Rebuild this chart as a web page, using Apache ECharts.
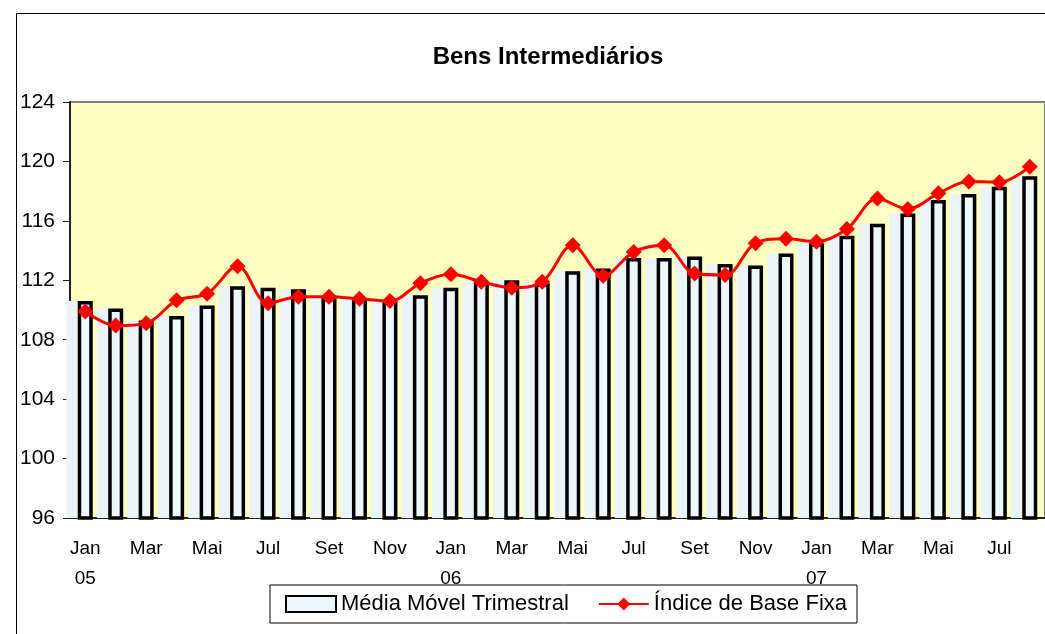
<!DOCTYPE html>
<html>
<head>
<meta charset="utf-8">
<script src="https://cdn.jsdelivr.net/npm/echarts@6/dist/echarts.min.js"></script>
<style>
html,body{margin:0;padding:0;background:#fff;}
#chart{width:1045px;height:634px;}
</style>
</head>
<body>
<div id="chart"></div>
<script>
var categories = ['Jan\n05','Fev','Mar','Abr','Mai','Jun','Jul','Ago','Set','Out','Nov','Dez',
                  'Jan\n06','Fev','Mar','Abr','Mai','Jun','Jul','Ago','Set','Out','Nov','Dez',
                  'Jan\n07','Fev','Mar','Abr','Mai','Jun','Jul','Ago'];
var mediaMovel = [110.6, 110.1, 109.3, 109.6, 110.3, 111.6, 111.5, 111.4, 110.8, 110.8, 110.6, 111.0,
                  111.5, 111.9, 112.0, 111.8, 112.6, 112.8, 113.5, 113.5, 113.6, 113.1, 113.0, 113.8,
                  114.5, 115.0, 115.8, 116.5, 117.4, 117.8, 118.3, 119.0];
var indiceBaseFixa = [109.9, 108.95, 109.1, 110.65, 111.1, 112.95, 110.45, 110.9, 110.9, 110.75, 110.6, 111.8,
                      112.4, 111.9, 111.5, 111.9, 114.35, 112.3, 113.9, 114.35, 112.45, 112.35, 114.5, 114.8,
                      114.6, 115.45, 117.5, 116.8, 117.85, 118.65, 118.6, 119.65];
var yTicks = [96, 100, 104, 108, 112, 116, 120, 124];

var chart = echarts.init(document.getElementById('chart'), null, {renderer: 'canvas'});
var FONT = 'Liberation Sans, Arial, sans-serif';

function renderShadow(params, api) {
  var idx = api.value(0);
  var val = api.value(1);
  var top = api.coord([idx, val]);
  var base = api.coord([idx, 96]);
  var bw = api.size([1, 0])[0];
  var x0 = top[0] - bw * 0.62;
  var w = bw * 0.85;
  return {
    type: 'rect',
    shape: {x: x0, y: top[1], width: w, height: base[1] - top[1]},
    style: {fill: '#ebf5f8'}
  };
}

var option = {
  animation: false,
  backgroundColor: '#ffffff',
  title: {
    text: 'Bens Intermediários',
    left: 543,
    textAlign: 'center',
    top: 40,
    textStyle: {fontFamily: FONT, fontSize: 24, fontWeight: 'bold', color: '#000'}
  },
  graphic: [{
    type: 'rect', left: 14, top: 11, z: 100,
    shape: {width: 1100, height: 700},
    style: {fill: 'none', stroke: '#000', lineWidth: 1}
  }],
  grid: {
    left: 70, top: 102, right: 0, bottom: 116,
    show: true, backgroundColor: '#FFFFC0', borderColor: '#808080', borderWidth: 2
  },
  legend: {
    left: 270, top: 585,
    padding: [8, 10, 8, 15],
    itemGap: 29,
    itemWidth: 50, itemHeight: 16,
    backgroundColor: '#fff', borderColor: '#000', borderWidth: 1,
    z: 50,
    textStyle: {fontFamily: FONT, fontSize: 22, color: '#000'},
    data: [{name: 'Média Móvel Trimestral', icon: 'rect'}, {name: 'Índice de Base Fixa'}]
  },
  xAxis: {
    type: 'category',
    data: categories,
    boundaryGap: true,
    axisLine: {lineStyle: {color: '#222', width: 2}},
    axisTick: {length: 7, lineStyle: {color: '#444', width: 1}},
    axisLabel: {
      interval: 1, margin: 16, color: '#000',
      fontFamily: FONT, fontSize: 19, lineHeight: 30
    },
    splitLine: {show: false}
  },
  yAxis: {
    type: 'value', min: 96, max: 124, interval: 4,
    axisLine: {show: true, lineStyle: {color: '#222', width: 2}},
    axisTick: {show: true, length: 7, lineStyle: {color: '#222', width: 1}},
    axisLabel: {margin: 15, color: '#000', fontFamily: FONT, fontSize: 21,
      formatter: function (v) { return yTicks.indexOf(v) >= 0 ? String(v) : ''; }},
    splitLine: {show: false}
  },
  series: [
    {
      name: 'sombra',
      type: 'custom',
      renderItem: renderShadow,
      data: mediaMovel.map(function (v, i) { return [i, v]; }),
      encode: {x: 0, y: 1},
      z: 1,
      silent: true
    },
    {
      name: 'Média Móvel Trimestral',
      type: 'bar',
      data: mediaMovel,
      barWidth: 15,
      z: 3,
      itemStyle: {color: '#eef7fb', borderColor: '#000', borderWidth: 3.5}
    },
    {
      name: 'Índice de Base Fixa',
      type: 'line',
      data: indiceBaseFixa,
      smooth: 0.35,
      z: 5,
      symbol: 'diamond',
      symbolSize: 16,
      lineStyle: {color: '#ff0000', width: 3},
      itemStyle: {color: '#ff0000'}
    }
  ]
};
chart.setOption(option);
</script>
</body>
</html>
